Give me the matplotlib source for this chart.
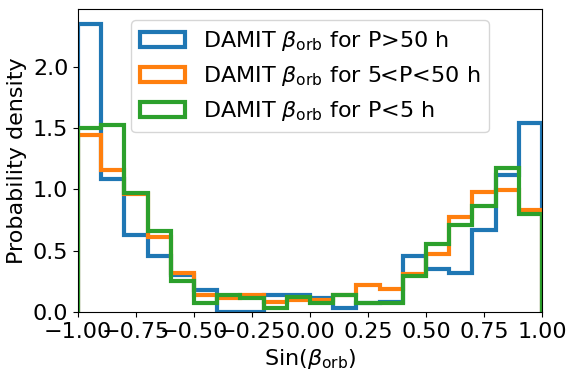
import numpy as np
import matplotlib
matplotlib.use('Agg')
import matplotlib.pyplot as plt

edges = np.linspace(-1, 1, 21)

dens_long = [2.35, 1.08, 0.63, 0.46, 0.30, 0.18, 0.00, 0.00, 0.14, 0.14,
             0.11, 0.035, 0.075, 0.08, 0.46, 0.35, 0.32, 0.67, 1.12, 1.54]
dens_mid = [1.445, 1.155, 0.96, 0.61, 0.315, 0.14, 0.11, 0.14, 0.08, 0.10,
            0.095, 0.14, 0.22, 0.19, 0.31, 0.47, 0.775, 0.975, 0.99, 0.83]
dens_short = [1.50, 1.52, 0.97, 0.66, 0.25, 0.07, 0.14, 0.11, 0.03, 0.12,
              0.07, 0.14, 0.07, 0.07, 0.29, 0.555, 0.71, 0.86, 1.17, 0.795]

labels = [r'DAMIT $\beta_{\rm orb}$ for P>50 h',
          r'DAMIT $\beta_{\rm orb}$ for 5<P<50 h',
          r'DAMIT $\beta_{\rm orb}$ for P<5 h']
colors = ['tab:blue', 'tab:orange', 'tab:green']

plt.rcParams['font.size'] = 16
fig = plt.figure(figsize=(5.75, 3.8), dpi=100)
ax = fig.add_axes([0.1357, 0.179, 0.807, 0.797])

centers = (edges[:-1] + edges[1:]) / 2
for d, lab, c in zip([dens_long, dens_mid, dens_short], labels, colors):
    ax.hist(centers, bins=edges, weights=d, histtype='step', lw=3,
            color=c, label=lab)

ax.set_xlim(-1, 1)
ax.set_xticks(np.arange(-1, 1.01, 0.25))
ax.set_yticks([0.0, 0.5, 1.0, 1.5, 2.0])
ax.set_xlabel(r'Sin($\beta_{\rm orb}$)')
ax.set_ylabel('Probability density')
ax.legend(loc='upper center', fontsize=16)

fig.savefig('out.png', dpi=100)
